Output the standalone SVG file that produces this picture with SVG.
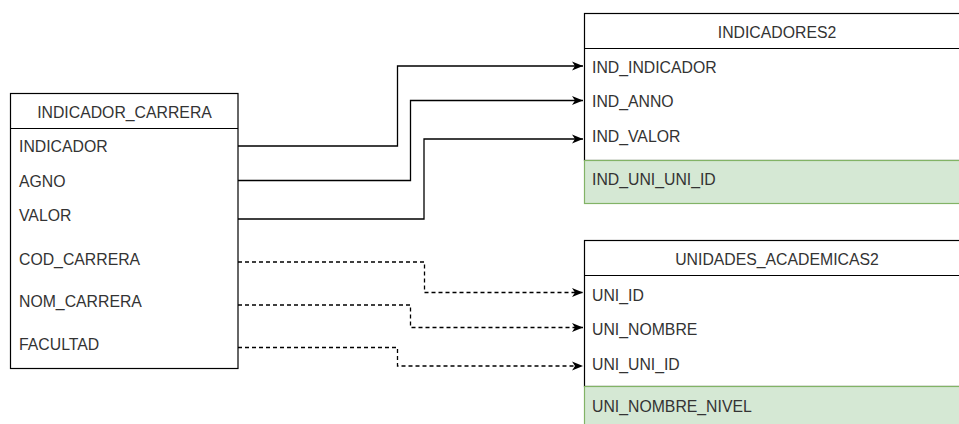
<svg xmlns="http://www.w3.org/2000/svg" width="959" height="424" viewBox="0 0 959 424">
<style>
.box{fill:#ffffff;stroke:#000000;stroke-width:1.2}
.green{fill:#d5e8d4;stroke:#82b366;stroke-width:1.2}
.t{font-family:"Liberation Sans",Arial,sans-serif;font-size:15.8px;fill:#333333}
.h{text-anchor:middle}
.c{fill:none;stroke:#000000;stroke-width:1.3}
.d{stroke-dasharray:4 3}
</style>
<defs>
<marker id="arr" markerUnits="userSpaceOnUse" markerWidth="12" markerHeight="12" refX="11" refY="6" orient="auto">
<path d="M0,1.5 L11,6 L0,10.5 L3,6 z" fill="#000000"/>
</marker>
</defs>
<rect width="959" height="424" fill="#ffffff"/>
<g id="connectors">
<path class="c" d="M238,146 H397.5 V66 H583" marker-end="url(#arr)"/>
<path class="c" d="M238,180.5 H410.5 V100.5 H583" marker-end="url(#arr)"/>
<path class="c" d="M238,219 H424 V139 H583" marker-end="url(#arr)"/>
<path class="c d" d="M238,262 H424.5 V292.5 H583" marker-end="url(#arr)"/>
<path class="c d" d="M238,305 H410.5 V327.5 H583" marker-end="url(#arr)"/>
<path class="c d" d="M238,347.5 H397.5 V366 H583" marker-end="url(#arr)"/>
</g>
<g id="indicador_carrera">
<rect class="box" x="10.5" y="93.5" width="227.5" height="275"/>
<line x1="10.5" y1="128.5" x2="238" y2="128.5" stroke="#000" stroke-width="1.2"/>
<text class="t h" x="124.5" y="117.5">INDICADOR_CARRERA</text>
<text class="t" x="19" y="152">INDICADOR</text>
<text class="t" x="19" y="186.5">AGNO</text>
<text class="t" x="19" y="221">VALOR</text>
<text class="t" x="19" y="265">COD_CARRERA</text>
<text class="t" x="19" y="307">NOM_CARRERA</text>
<text class="t" x="19" y="350">FACULTAD</text>
</g>
<g id="indicadores2">
<rect class="box" x="584.5" y="13.5" width="386" height="147"/>
<line x1="584.5" y1="48.5" x2="970" y2="48.5" stroke="#000" stroke-width="1.2"/>
<rect class="green" x="584.5" y="160.5" width="386" height="43"/>
<text class="t h" x="777" y="37.5">INDICADORES2</text>
<text class="t" x="592" y="72.5">IND_INDICADOR</text>
<text class="t" x="592" y="106.5">IND_ANNO</text>
<text class="t" x="592" y="141.5">IND_VALOR</text>
<text class="t" x="592" y="185">IND_UNI_UNI_ID</text>
</g>
<g id="unidades_academicas2">
<rect class="box" x="584.5" y="240.5" width="386" height="146"/>
<line x1="584.5" y1="275.5" x2="970" y2="275.5" stroke="#000" stroke-width="1.2"/>
<rect class="green" x="584.5" y="386.5" width="386" height="50"/>
<text class="t h" x="777" y="264.5">UNIDADES_ACADEMICAS2</text>
<text class="t" x="592" y="300.5">UNI_ID</text>
<text class="t" x="592" y="335">UNI_NOMBRE</text>
<text class="t" x="592" y="370">UNI_UNI_ID</text>
<text class="t" x="592" y="412">UNI_NOMBRE_NIVEL</text>
</g>
</svg>
